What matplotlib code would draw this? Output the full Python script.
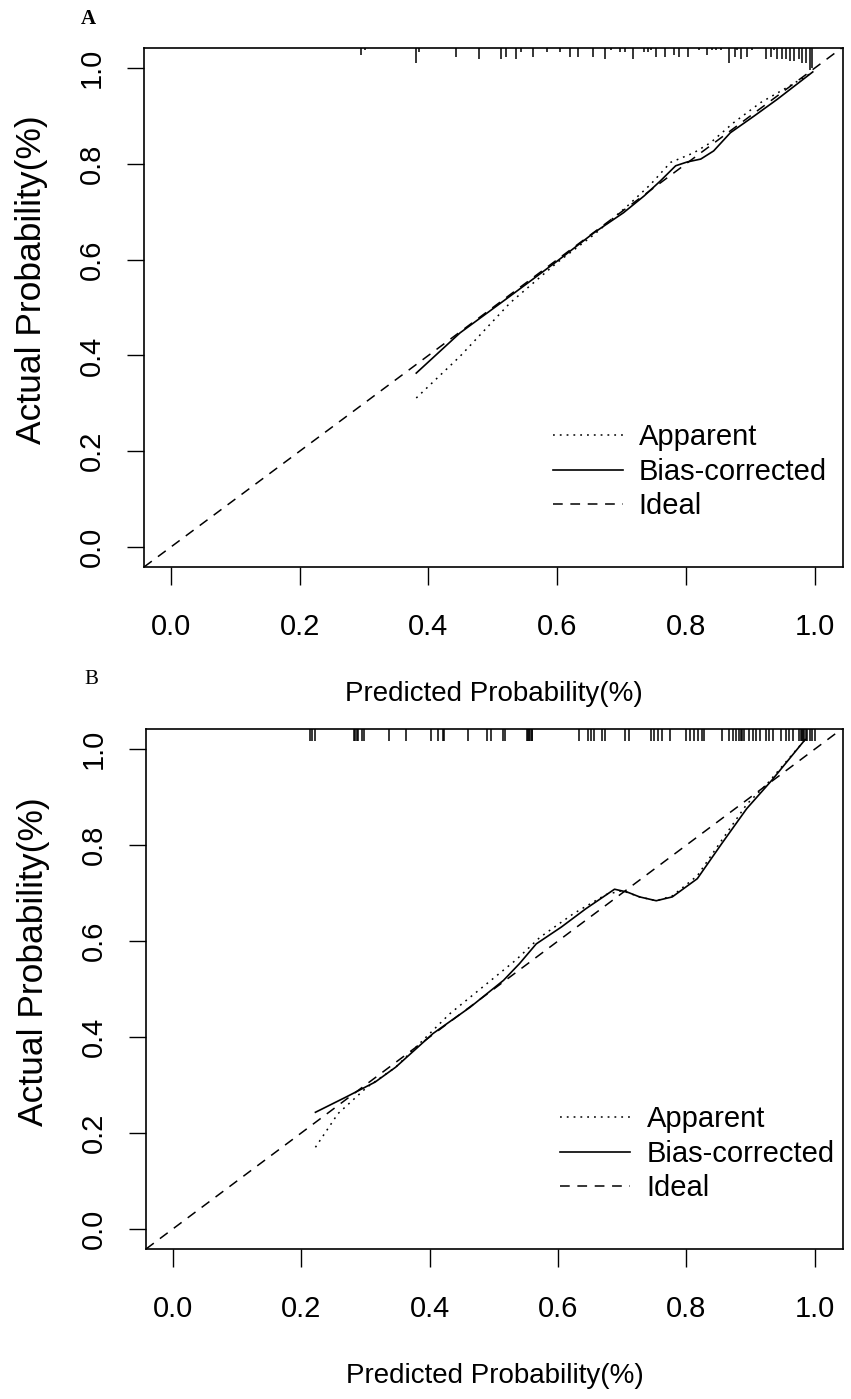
import matplotlib
matplotlib.use("Agg")
import matplotlib.pyplot as plt
import matplotlib.transforms as mtransforms
from matplotlib.lines import Line2D

plt.rcParams['font.family'] = ['Liberation Sans', 'DejaVu Sans']
plt.rcParams['lines.scale_dashes'] = False

# ---- panel A data ----
a_app_x = [0.381, 0.449, 0.527, 0.600, 0.657, 0.709, 0.745, 0.776, 0.812, 0.838, 0.874, 0.916, 0.955, 0.995]
a_app_y = [0.311, 0.398, 0.510, 0.594, 0.652, 0.712, 0.757, 0.803, 0.823, 0.844, 0.886, 0.928, 0.958, 0.990]
a_bc_x = [0.381, 0.449, 0.527, 0.600, 0.657, 0.703, 0.735, 0.760, 0.784, 0.802, 0.823, 0.843, 0.869, 0.906, 0.942, 0.997]
a_bc_y = [0.363, 0.447, 0.524, 0.597, 0.656, 0.698, 0.733, 0.764, 0.796, 0.804, 0.810, 0.827, 0.865, 0.900, 0.935, 0.992]
a_rug_x = [0.295, 0.301, 0.381, 0.386, 0.443, 0.478, 0.513, 0.521, 0.536, 0.543, 0.562, 0.584, 0.605, 0.620,
           0.633, 0.656, 0.675, 0.684, 0.698, 0.706, 0.718, 0.735, 0.741, 0.746, 0.754, 0.768, 0.782, 0.789,
           0.803, 0.820, 0.833, 0.841, 0.846, 0.854, 0.867, 0.876, 0.880, 0.886, 0.895, 0.903, 0.924, 0.932,
           0.937, 0.942, 0.949, 0.955, 0.961, 0.968, 0.975, 0.981, 0.986, 0.992, 0.996]
a_rug_n = [3, 1, 7, 2, 4, 5, 5, 4, 5, 2, 4, 2, 2, 4,
           4, 4, 5, 1, 2, 2, 5, 2, 2, 1, 4, 4, 3, 4,
           4, 1, 3, 1, 1, 1, 7, 4, 1, 5, 4, 1, 5, 4,
           1, 5, 5, 5, 6, 6, 5, 7, 7, 10, 9]

# ---- panel B data ----
b_app_x = [0.222, 0.257, 0.302, 0.347, 0.431, 0.534, 0.572, 0.624, 0.675, 0.700, 0.727, 0.753, 0.778, 0.817, 0.855, 0.894, 0.926, 0.985]
b_app_y = [0.170, 0.240, 0.295, 0.337, 0.448, 0.560, 0.608, 0.657, 0.697, 0.705, 0.692, 0.684, 0.694, 0.736, 0.810, 0.885, 0.928, 1.020]
b_bc_x = [0.222, 0.270, 0.315, 0.347, 0.405, 0.463, 0.515, 0.540, 0.566, 0.605, 0.643, 0.688, 0.708, 0.727, 0.753, 0.778, 0.817, 0.855, 0.894, 0.933, 0.985]
b_bc_y = [0.243, 0.275, 0.306, 0.337, 0.407, 0.462, 0.518, 0.553, 0.594, 0.629, 0.667, 0.708, 0.702, 0.692, 0.684, 0.692, 0.730, 0.803, 0.876, 0.935, 1.020]
b_rug_x = [0.213, 0.217, 0.222, 0.282, 0.284, 0.286, 0.288, 0.294, 0.298, 0.337, 0.363, 0.402, 0.413, 0.420,
           0.422, 0.459, 0.489, 0.495, 0.515, 0.518, 0.551, 0.553, 0.555, 0.557, 0.559, 0.560,
           0.633, 0.647, 0.651, 0.656, 0.669, 0.673, 0.704, 0.711, 0.745, 0.750, 0.755, 0.762, 0.775,
           0.800, 0.806, 0.812, 0.818, 0.824, 0.828, 0.856, 0.866, 0.872, 0.877, 0.882, 0.885, 0.887,
           0.890, 0.898, 0.903, 0.908, 0.914, 0.924, 0.929, 0.935, 0.947, 0.955, 0.960, 0.966, 0.975,
           0.978, 0.980, 0.982, 0.984, 0.986, 0.988, 0.992, 0.996, 1.000]

ticks = [0.0, 0.2, 0.4, 0.6, 0.8, 1.0]
tick_labels = ['0.0', '0.2', '0.4', '0.6', '0.8', '1.0']
legend_labels = ['Apparent', 'Bias-corrected', 'Ideal']

FS = 21
DOT = (0, (1.3, 3.6))
DASH = (0, (7, 5.5))
LW = 1.1

fig = plt.figure(figsize=(8.51, 13.99), dpi=100)
W, H = 851, 1399


def make_axes(l, t, r, b):
    return fig.add_axes([l / W, 1 - b / H, (r - l) / W, (b - t) / H])


def draw_panel(ax, app_x, app_y, bc_x, bc_y, rug_x, rug_h, leg_anchor, letter, letter_xy, bold):
    ax.set_xlim(-0.042, 1.044)
    ax.set_ylim(-0.042, 1.042)
    ax.axline((0, 0), slope=1, color='black', lw=LW, linestyle=DASH)
    ax.plot(app_x, app_y, color='black', lw=LW, linestyle=DOT)
    ax.plot(bc_x, bc_y, color='black', lw=LW + 0.1)

    trans = mtransforms.blended_transform_factory(ax.transData, ax.transAxes)
    ax.vlines(rug_x, [1 - h for h in rug_h], 1, transform=trans, color='black', lw=1.1)

    ax.set_xticks(ticks)
    ax.set_xticklabels(tick_labels)
    ax.set_yticks(ticks)
    ax.set_yticklabels(tick_labels)
    ax.tick_params(axis='x', length=13, width=1.0, pad=20, labelsize=FS, direction='out')
    ax.tick_params(axis='y', length=12.5, width=1.0, pad=15, labelsize=FS, direction='out')
    plt.setp(ax.get_yticklabels(), rotation=90, va='center')
    for sp in ax.spines.values():
        sp.set_linewidth(1.2)

    ax.set_xlabel('Predicted Probability(%)', fontsize=20)
    ax.set_ylabel('Actual Probability(%)', fontsize=25.5)
    ax.xaxis.set_label_coords(0.5, -0.22)
    ax.yaxis.set_label_coords(-0.138, 0.553)

    handles = [Line2D([], [], color='black', lw=LW, linestyle=DOT),
               Line2D([], [], color='black', lw=LW + 0.1),
               Line2D([], [], color='black', lw=LW, linestyle=DASH)]
    ax.legend(handles, legend_labels, loc='lower right', bbox_to_anchor=leg_anchor,
              frameon=False, fontsize=FS, handlelength=2.4, handletextpad=0.55,
              labelspacing=0.22, borderpad=0, borderaxespad=0)

    fig.text(letter_xy[0] / W, 1 - letter_xy[1] / H, letter, family='Liberation Serif',
             fontsize=15, fontweight='bold' if bold else 'normal', ha='center', va='center')


axA = make_axes(144, 48, 843, 567)
draw_panel(axA, a_app_x, a_app_y, a_bc_x, a_bc_y, a_rug_x,
           [n * 2.2 / 519 for n in a_rug_n], (0.977, 0.09), 'A', (88, 19), True)

axB = make_axes(146, 729, 843, 1249)
draw_panel(axB, b_app_x, b_app_y, b_bc_x, b_bc_y, b_rug_x,
           [12 / 520] * len(b_rug_x), (0.988, 0.09), 'B', (91, 679), False)

fig.savefig('out.png', dpi=100)
